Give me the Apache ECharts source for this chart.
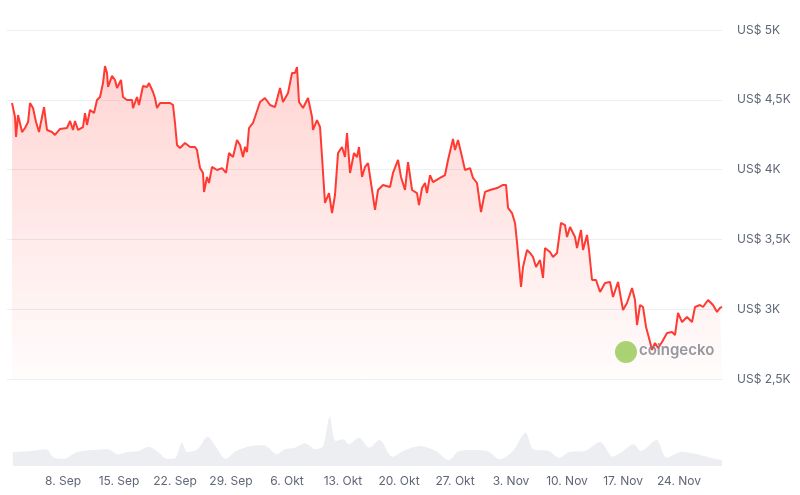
<!DOCTYPE html>
<html style="height: 100%">
<head>
    <meta charset="utf-8">
</head>
<body style="height: 100%; margin: 0; background: #fff">
<div id="container" style="width: 800px; height: 495px"></div>
<script type="text/javascript" src="https://cdn.jsdelivr.net/npm/echarts@6/dist/echarts.min.js"></script>
<script type="text/javascript">
    // days since 1 Sep, price in USD
    var priceDays = [0.63,1.0,1.13,1.38,1.88,2.25,2.63,2.88,3.25,3.63,4.0,4.63,5.0,5.63,6.0,6.63,7.5,7.88,8.25,8.5,8.88,9.5,9.75,10.0,10.38,10.88,11.25,11.63,12.0,12.25,12.5,12.63,13.13,13.5,13.75,14.25,14.5,15.0,15.63,15.75,16.25,16.5,17.0,17.5,17.75,18.25,18.5,18.75,19.13,19.75,20.38,20.75,21.0,21.25,21.63,22.25,22.88,23.5,23.75,24.13,24.5,24.63,25.0,25.25,25.63,26.25,26.88,27.38,27.75,28.25,28.75,29.13,29.5,29.75,30.0,30.25,30.75,31.0,31.25,31.63,32.25,32.88,33.5,34.13,34.5,35.13,35.63,36.0,36.25,36.5,37.0,37.63,38.13,38.25,38.75,39.13,39.38,39.75,40.25,40.63,41.0,41.38,41.88,42.25,42.5,42.88,43.38,43.75,44.0,44.38,44.75,45.13,45.5,46.0,46.38,47.0,47.88,48.25,48.88,49.25,49.75,50.13,50.63,51.25,51.5,51.88,52.25,52.5,52.88,53.25,54.13,54.75,55.13,55.75,56.0,56.38,56.88,57.25,57.88,58.25,58.75,59.25,59.75,60.38,61.25,62.0,62.38,62.63,63.13,63.5,63.75,64.25,64.5,65.0,65.38,65.75,66.13,66.63,67.0,67.25,67.88,68.25,68.75,69.25,69.75,70.0,70.38,71.0,71.25,71.75,72.0,72.5,72.75,73.13,73.63,74.13,74.75,75.38,75.75,76.38,77.0,77.5,78.13,78.5,78.75,79.13,79.5,79.88,80.25,80.63,81.0,81.38,81.88,82.5,83.13,83.5,83.88,84.38,85.0,85.63,86.0,86.63,87.0,87.63,88.25,88.75,89.13,89.38];
    var prices = [4477,4377,4234,4391,4269,4298,4341,4477,4441,4341,4269,4448,4284,4269,4248,4291,4298,4348,4284,4348,4284,4305,4405,4320,4427,4405,4499,4520,4620,4742,4692,4592,4671,4642,4585,4642,4520,4499,4499,4441,4520,4463,4599,4592,4620,4556,4513,4441,4477,4477,4477,4463,4334,4176,4155,4191,4162,4162,4140,4011,3976,3840,3947,3904,4019,3997,4011,3976,4119,4090,4212,4176,4090,4162,4126,4298,4334,4377,4370,4484,4513,4463,4448,4585,4484,4549,4692,4692,4735,4484,4441,4513,4377,4284,4355,4305,4090,3761,3832,3689,3818,4119,4162,4090,4262,3976,4119,4090,4162,3947,4019,4047,3904,3711,3854,3890,3875,3976,4069,3947,3854,4054,3854,3832,3746,3868,3904,3832,3961,3911,3940,3961,4069,4219,4140,4212,4090,3997,4011,3940,3904,3696,3840,3854,3868,3890,3890,3725,3689,3618,3481,3159,3302,3424,3403,3374,3302,3352,3224,3438,3410,3374,3403,3618,3603,3517,3589,3517,3438,3567,3424,3532,3424,3209,3209,3123,3188,3195,3087,3195,2994,3044,3152,3066,2887,3030,3016,2873,2794,2708,2758,2722,2765,2830,2837,2815,2973,2908,2944,2908,3016,3030,3016,3066,3030,2980,3009,3016];

    // trading volume (relative, B USD)
    var volDays = [0.73,2.97,4.9,5.86,7.14,8.74,10.66,12.59,13.87,15.15,16.43,17.71,19,19.96,20.92,21.88,22.52,23.8,25.09,26.05,27.33,28.61,30.54,32.14,33.74,34.7,35.98,37.26,38.55,39.51,40.34,41.11,42.07,42.71,44,45.28,46.56,48.16,49.76,51.69,53.61,55.21,56.5,58.1,60.02,61.63,63.23,64.83,65.79,67.71,69,70.28,72.2,74.13,75.73,77.01,78.29,79.25,81.18,82.46,84.38,86.3,87.91,89.38];
    var volumes = [14,15,16.7,8.3,7.3,14,16,16.7,11.7,14,15,19.3,13.3,7.3,7.3,23.3,14,16.7,29.3,20,7.3,15,20,20.7,11.7,16.7,18.3,22.7,16.7,20,49.3,25,26.7,21.7,28.3,18.3,26,9.3,16,20,15,6,15,16,15,6.7,15,33.3,16.7,15,8.3,14,15,24,9.3,15,21.7,15,26,8.3,14.3,11.7,8.3,6];

    var yTicks = [2500, 3000, 3500, 4000, 4500, 5000];
    var months = ['Sep', 'Okt', 'Nov'];
    var monthLen = [30, 31, 30];

    function dayLabel(d) {
        var m = 0, day = Math.round(d) + 1;
        while (day > monthLen[m]) { day -= monthLen[m]; m++; }
        return day + '. ' + months[m];
    }

    var priceData = priceDays.map(function (d, i) { return [d, prices[i]]; });
    var volData = volDays.map(function (d, i) { return [d, volumes[i]]; });

    var myChart = echarts.init(document.getElementById('container'));
    var labelColor = '#5f6675';
    var option = {
        animation: false,
        grid: [
            { left: 7, right: 78, top: 30, height: 349 },
            { left: 7, right: 78, top: 416, height: 50 }
        ],
        xAxis: [
            { gridIndex: 0, type: 'value', min: 0, max: 89.375, interval: 7,
              axisLine: { show: false }, axisTick: { show: false }, axisLabel: { show: false }, splitLine: { show: false } },
            { gridIndex: 1, type: 'value', min: 0, max: 89.375, interval: 7,
              axisLine: { show: false }, axisTick: { show: false }, splitLine: { show: false },
              axisLabel: { showMinLabel: false, showMaxLabel: false, color: labelColor, fontSize: 12, margin: 9,
                  fontFamily: 'Inter', formatter: dayLabel } }
        ],
        yAxis: [
            { gridIndex: 0, type: 'value', position: 'right', min: yTicks[0], max: yTicks[yTicks.length - 1], interval: 500,
              axisLine: { show: false }, axisTick: { show: false },
              splitLine: { lineStyle: { color: '#eceef2' } },
              axisLabel: { color: labelColor, fontSize: 12, margin: 15, fontFamily: 'Inter',
                  formatter: function (v) { return 'US$ ' + String(v / 1000).replace('.', ',') + 'K'; } } },
            { gridIndex: 1, type: 'value', min: 0, max: 50, show: false }
        ],
        series: [
            { type: 'line', xAxisIndex: 0, yAxisIndex: 0, data: priceData, showSymbol: false,
              lineStyle: { color: '#ff3a33', width: 2 },
              areaStyle: { origin: 'start', color: new echarts.graphic.LinearGradient(0, 0, 0, 1, [
                  { offset: 0, color: 'rgba(255,70,60,0.32)' },
                  { offset: 1, color: 'rgba(255,70,60,0.02)' }
              ]) } },
            { type: 'line', xAxisIndex: 1, yAxisIndex: 1, data: volData, showSymbol: false, smooth: 0.3,
              lineStyle: { width: 0 }, areaStyle: { color: '#eceef2', opacity: 1 } }
        ],
        graphic: [
            { type: 'circle', left: 615, top: 341, z: 10, shape: { r: 11 }, style: { fill: '#8dc647', opacity: 0.75 } },
            { type: 'text', left: 639, top: 343, z: 10, style: { text: 'coingecko', fill: '#7a808a', font: '600 15px Inter', opacity: 0.8 } }
        ]
    };
    myChart.setOption(option);
</script>
</body>
</html>
